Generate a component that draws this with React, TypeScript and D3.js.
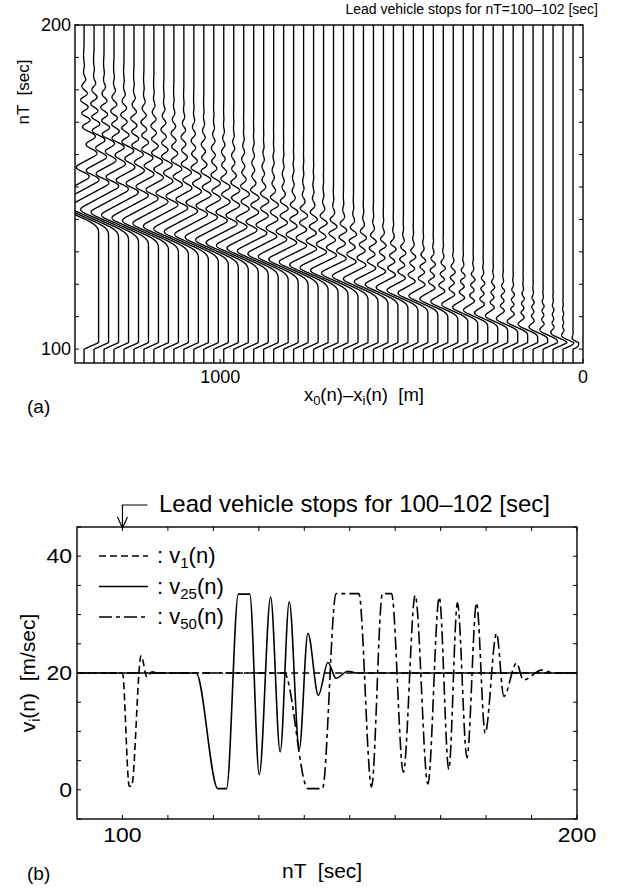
import React, { useMemo } from "react";
import * as d3 from "d3";

const FONT = "'Liberation Sans', Arial, Helvetica, sans-serif";

const v1Turns = [
  [100.0, 100.0, 20], [101.5, 102.0, 0.6], [104.1, 104.1, 23.0],
  [105.4, 105.4, 19.3], [106.5, 106.5, 20.2], [107.8, 107.8, 20],
];
const v25Turns = [
  [116.2, 116.2, 20], [121.0, 122.9, 0.2], [125.5, 128.0, 33.5], [130.1, 130.1, 2.6],
  [132.6, 132.6, 33.0], [134.7, 134.7, 6.5], [136.7, 136.7, 32.2], [138.9, 138.9, 7.0],
  [140.8, 140.8, 26.8], [143.1, 143.1, 16.2], [145.2, 145.2, 21.8], [147.0, 147.0, 19.1],
  [149.6, 149.6, 20.3], [151.5, 151.5, 20],
];
const v50Turns = [
  [135.6, 135.6, 20], [140.8, 144.0, 0.2], [147.0, 152.0, 33.6], [154.8, 154.8, 0.5],
  [157.2, 159.2, 33.6], [161.8, 161.8, 3.0], [164.4, 164.4, 33.3], [167.2, 167.2, 1.0],
  [169.7, 169.7, 33.0], [171.8, 171.8, 3.5], [173.7, 173.7, 32.0], [175.8, 175.8, 5.5],
  [177.9, 177.9, 32.0], [179.8, 179.8, 9.7], [182.3, 182.3, 26.8], [183.9, 183.9, 16.0],
  [186.7, 186.7, 21.7], [188.2, 188.2, 18.8], [192.2, 192.2, 20.5], [195.0, 195.0, 20],
];
// lead vehicle: stops for nT = 100-102
const leadTurns = [[99.8, 99.8, 20], [100.2, 101.8, 0], [102.2, 102.2, 20]];

const cruise = 20; // m/sec
const vMax = 33.6;
const vehicleCount = 50;
const headway = 27.5; // m, spacing of the vertical lines in (a)
const tStart = 95.7;
const tEnd = 200;

// axes
const aTicksY = d3.range(100, 201, 10);
const aLabelsY = [100, 200];
const aLabelsX = [1000, 0];
const bTicksX = d3.range(100, 201, 10);
const bTicksY = d3.range(-5, 46, 5);
const bLabelsX = [100, 200];
const bLabelsY = [0, 20, 40];

function speedAt(turns: number[][], t: number) {
  if (t <= turns[0][0]) return turns[0][2];
  for (let k = 0; k < turns.length; k++) {
    const [a, b, v] = turns[k];
    if (t <= b) {
      if (t >= a) return v;
      const [, pb, pv] = turns[k - 1];
      const s = (t - pb) / (a - pb);
      return pv + ((v - pv) * (1 - Math.cos(Math.PI * s))) / 2;
    }
  }
  return turns[turns.length - 1][2];
}

function padTurns(turns: number[][], n: number) {
  const out = turns.map((d) => [...d]);
  const step = out[out.length - 1][0] - out[out.length - 2][1];
  while (out.length < n) {
    const t = out[out.length - 1][1] + step;
    out.push([t, t, cruise]);
  }
  return out;
}

const refs = [
  { i: 1, turns: v1Turns },
  { i: 25, turns: v25Turns },
  { i: 50, turns: v50Turns },
];
const nTurns = d3.max(refs, (r) => r.turns.length) ?? 0;
const dipCenter = (turns: number[][]) => (turns[1][0] + turns[1][1]) / 2;

// vehicles between the three plotted ones follow the neighbouring curves
// (oscillation builds up quickly behind the lead car, hence the sqrt-ish weight on speeds)
function turnsFor(i: number) {
  const first = i <= 25;
  const [A, B] = first ? [refs[0], refs[1]] : [refs[1], refs[2]];
  const w = (i - A.i) / (B.i - A.i);
  const wv = first ? Math.pow(w, 0.45) : w;
  const pa = padTurns(A.turns, nTurns);
  const pb = padTurns(B.turns, nTurns);
  const ca = dipCenter(A.turns);
  const cb = dipCenter(B.turns);
  const c = ca + (cb - ca) * w;
  return pa.map((d, k) => {
    const e = pb[k];
    return [
      c + (d[0] - ca) * (1 - w) + (e[0] - cb) * w,
      c + (d[1] - ca) * (1 - w) + (e[1] - cb) * w,
      d[2] * (1 - wv) + e[2] * wv,
    ];
  });
}

function trajectory(i: number): [number, number][] {
  const turns = turnsFor(i);
  const base = i * headway;
  const dt = 0.05;
  const steps = Math.round((tEnd - tStart) / dt);
  const v = new Float64Array(steps + 1);
  const v0 = new Float64Array(steps + 1);
  let D = 0, S = 0, L = 0;
  for (let s = 0; s <= steps; s++) {
    const t = tStart + s * dt;
    v[s] = Math.max(0, Math.min(vMax, speedAt(turns, t)));
    v0[s] = speedAt(leadTurns, t);
    L += (cruise - v0[s]) * dt;
    if (v[s] < cruise) D += (cruise - v[s]) * dt;
    else S += (v[s] - cruise) * dt;
  }
  // every car ends at its old spacing (top of (a))
  const k = S > 0.5 ? Math.max(0.3, Math.min(3, (D - L) / S)) : 1;
  const resid = D - L - k * S;
  const tA = turns[1][0];
  const tB = turns[turns.length - 1][1];
  let gap = base;
  const pts: [number, number][] = [];
  for (let s = 0; s <= steps; s++) {
    const t = tStart + s * dt;
    const rate = v0[s] - cruise + (v[s] < cruise ? cruise - v[s] : -k * (v[s] - cruise));
    gap += rate * dt;
    if (s % 2 === 0 || s === steps) {
      const f = Math.max(0, Math.min(1, (t - tA) / (tB - tA)));
      pts.push([gap - resid * f, t]);
    }
  }
  return pts;
}

function speedPoints(turns: number[][]): [number, number][] {
  const pts: [number, number][] = [[90, cruise]];
  turns.forEach(([a, b, v]) => {
    pts.push([a, v]);
    if (b > a) pts.push([b, v]);
  });
  pts.push([200, cruise]);
  return pts;
}

// text slightly widened, like the scanned figure
function Label({ x, y, size, sx = 1, anchor = "start", dy, children }: any) {
  return (
    <text transform={`translate(${x},${y}) scale(${sx},1)`} fontSize={size} textAnchor={anchor} dy={dy} xmlSpace="preserve">
      {children}
    </text>
  );
}

export default function App() {
  const ax = d3.scaleLinear().domain([1400, 0]).range([75, 583]);
  const ay = d3.scaleLinear().domain([tStart, tEnd]).range([363, 25]);
  const bx = d3.scaleLinear().domain([90, 200]).range([77, 577]);
  const by = d3.scaleLinear().domain([-5, 45]).range([819, 527]);

  const paths = useMemo(() => d3.range(1, vehicleCount + 1).map(trajectory), []);
  const trajLine = d3.line<[number, number]>().x((d) => ax(d[0])).y((d) => ay(d[1]));
  const speedLine = d3
    .line<[number, number]>()
    .x((d) => bx(d[0]))
    .y((d) => by(d[1]))
    .curve(d3.curveMonotoneX);

  const series = [
    { turns: v25Turns, dash: "none", sub: "25" },
    { turns: v1Turns, dash: "7,4", sub: "1" },
    { turns: v50Turns, dash: "13,4,4,4", sub: "50" },
  ];
  const legendRows = [series[1], series[0], series[2]];

  const [ax0, ax1] = ax.range();
  const [ay0, ay1] = ay.range();
  const [bx0, bx1] = bx.range();
  const [by0, by1] = by.range();

  return (
    <div style={{ position: "absolute", left: 0, top: 0 }}>
      <svg width={618} height={892} style={{ display: "block", background: "#fff" }} fontFamily={FONT}>
        <defs>
          <clipPath id="clipA">
            <rect x={ax0} y={ay1} width={ax1 - ax0} height={ay0 - ay1} />
          </clipPath>
          <clipPath id="clipB">
            <rect x={bx0} y={by1} width={bx1 - bx0} height={by0 - by1} />
          </clipPath>
        </defs>

        {/* ---------- (a) ---------- */}
        <text x={598} y={14} fontSize={14} textAnchor="end">
          Lead vehicle stops for nT=100–102 [sec]
        </text>
        <g clipPath="url(#clipA)" fill="none" stroke="#000" strokeWidth={1.35}>
          {paths.map((p, i) => (
            <path key={i} d={trajLine(p) ?? ""} />
          ))}
        </g>
        <rect x={ax0} y={ay1} width={ax1 - ax0} height={ay0 - ay1} fill="none" stroke="#000" strokeWidth={1.4} />
        {aTicksY.map((t) => (
          <g key={t} stroke="#000" strokeWidth={1}>
            <line x1={ax0} x2={ax0 + 4} y1={ay(t)} y2={ay(t)} />
            <line x1={ax1} x2={ax1 - 4} y1={ay(t)} y2={ay(t)} />
          </g>
        ))}
        {aLabelsX.map((m) => (
          <line key={m} x1={ax(m)} x2={ax(m)} y1={ay0} y2={ay0 - 4} stroke="#000" />
        ))}
        {aLabelsY.map((t) => (
          <Label key={t} x={ax0 - 4} y={ay(t)} dy="0.35em" size={18} anchor="end">
            {t}
          </Label>
        ))}
        {aLabelsX.map((m) => (
          <Label key={m} x={ax(m)} y={383} size={18} anchor="middle">
            {m}
          </Label>
        ))}
        <text x={424} y={401} fontSize={18.5} textAnchor="end" xmlSpace="preserve">
          x<tspan fontSize={13} dy={4}>0</tspan>
          <tspan dy={-4}>(n)–x</tspan>
          <tspan fontSize={13} dy={4}>i</tspan>
          <tspan dy={-4}>(n)  [m]</tspan>
        </text>
        <text transform="translate(29,92) rotate(-90)" fontSize={17} textAnchor="middle" xmlSpace="preserve">
          nT  [sec]
        </text>
        <text x={27} y={413} fontSize={19}>(a)</text>

        {/* ---------- (b) ---------- */}
        <g fill="none" stroke="#000" strokeWidth={1.2}>
          <path d={`M${bx(100) + 25},505H${bx(100)}V528`} />
          <path d={`M${bx(100) - 5},517L${bx(100)},528L${bx(100) + 5},517`} />
        </g>
        <text x={159} y={512} fontSize={24}>
          Lead vehicle stops for 100–102 [sec]
        </text>

        <g clipPath="url(#clipB)" fill="none" stroke="#000" strokeWidth={1.6}>
          {series.map((s) => (
            <path key={s.sub} d={speedLine(speedPoints(s.turns)) ?? ""} strokeDasharray={s.dash} />
          ))}
        </g>
        <rect x={bx0} y={by1} width={bx1 - bx0} height={by0 - by1} fill="none" stroke="#000" strokeWidth={1.4} />
        {bTicksX.map((t) => (
          <g key={t} stroke="#000" strokeWidth={1}>
            <line x1={bx(t)} x2={bx(t)} y1={by0} y2={by0 - 4} />
            <line x1={bx(t)} x2={bx(t)} y1={by1} y2={by1 + 4} />
          </g>
        ))}
        {bTicksY.map((v) => (
          <g key={v} stroke="#000" strokeWidth={1}>
            <line x1={bx0} x2={bx0 + 4} y1={by(v)} y2={by(v)} />
            <line x1={bx1} x2={bx1 - 4} y1={by(v)} y2={by(v)} />
          </g>
        ))}
        {bLabelsY.map((v) => (
          <Label key={v} x={bx0 - 5} y={by(v)} dy="0.35em" size={20} sx={1.15} anchor="end">
            {v}
          </Label>
        ))}
        {bLabelsX.map((t) => (
          <Label key={t} x={bx(t)} y={842} size={20} sx={1.15} anchor="middle">
            {t}
          </Label>
        ))}
        {legendRows.map((s, k) => (
          <g key={s.sub}>
            <line x1={99} x2={148} y1={556 + k * 30.5} y2={556 + k * 30.5} stroke="#000" strokeWidth={1.6} strokeDasharray={s.dash} />
            <text x={157} y={563 + k * 30.5} fontSize={22} xmlSpace="preserve">
              : v<tspan fontSize={15} dy={5}>{s.sub}</tspan>
              <tspan dy={-5}>(n)</tspan>
            </text>
          </g>
        ))}
        <text transform={`translate(35,${(by0 + by1) / 2}) rotate(-90)`} fontSize={21} textAnchor="middle" xmlSpace="preserve">
          v<tspan fontSize={14} dy={5}>i</tspan>
          <tspan dy={-5}>(n)  [m/sec]</tspan>
        </text>
        <text x={282} y={878} fontSize={21} xmlSpace="preserve">
          nT  [sec]
        </text>
        <text x={27} y={880} fontSize={19}>(b)</text>
      </svg>
    </div>
  );
}
